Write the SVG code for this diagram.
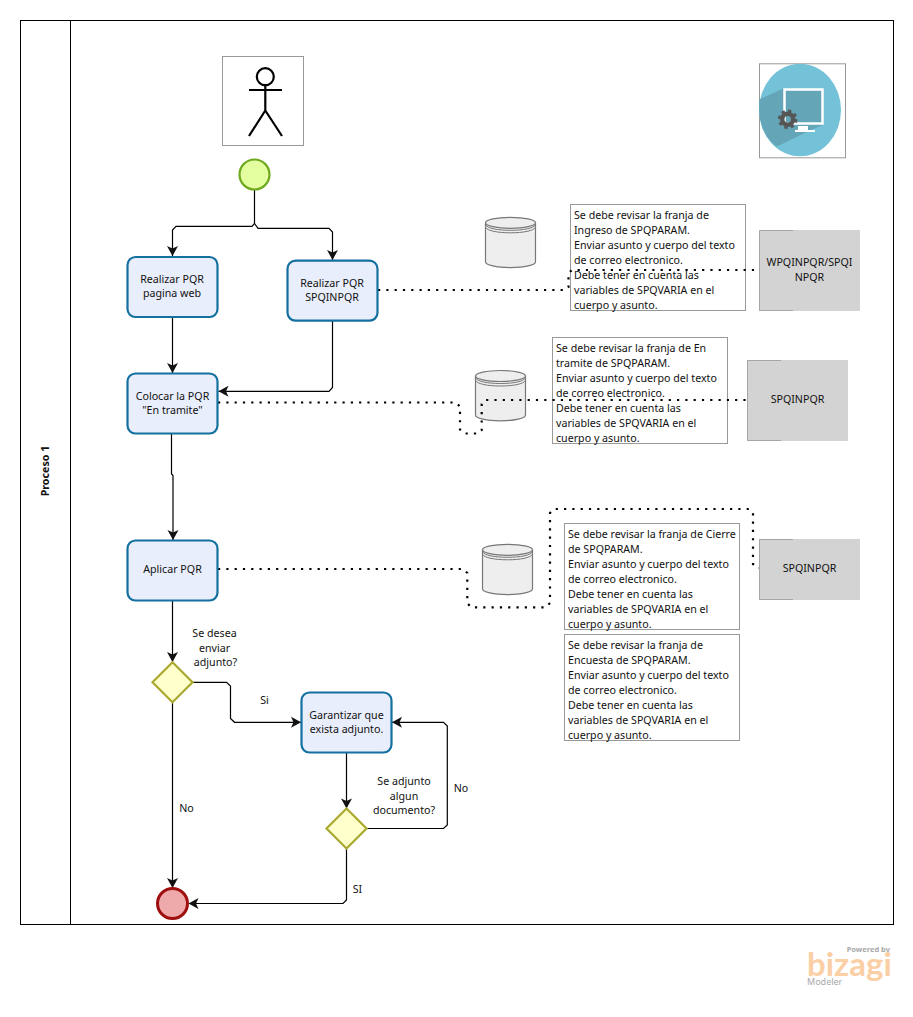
<svg xmlns="http://www.w3.org/2000/svg" width="913" height="1017" viewBox="0 0 913 1017">
<style>
text{font-family:"Noto Sans","Open Sans","Liberation Sans",sans-serif;font-size:10.67px;fill:#111}
.c{text-anchor:middle}
.task{fill:#e9eefc;stroke:#14709f;stroke-width:2.2}
.gw{fill:#ffffcc;stroke:#a9a92f;stroke-width:2.2}
.note{fill:#fff;stroke:#999;stroke-width:1}
.sys{fill:#d3d3d3}
.sysedge{fill:none;stroke:#a6a6a6;stroke-width:1}
.flow{fill:none;stroke:#000;stroke-width:1.2}
.dot{fill:none;stroke:#000;stroke-width:2.2;stroke-dasharray:2.2 6.1}
.cyl{fill:#eee;stroke:#777;stroke-width:1.2}
.cyl2{fill:none;stroke:#777;stroke-width:1}
</style>
<defs>
<marker id="ah" markerUnits="userSpaceOnUse" markerWidth="12" markerHeight="12" refX="11" refY="6" orient="auto"><path d="M1,0.5 L11,6 L1,11.5 L3.5,6 Z" fill="#111"/></marker>
<g id="db">
<path class="cyl" d="M0,5.5 V44.5 C0,47.8 11,50.3 25,50.3 C39,50.3 50,47.8 50,44.5 V5.5 Z"/>
<ellipse class="cyl" cx="25" cy="5.5" rx="25" ry="5.5"/>
<path class="cyl2" d="M0,7.5 C2,11 12,13 25,13 C38,13 48,11 50,7.5 M0,10 C2,13.5 12,15.5 25,15.5 C38,15.5 48,13.5 50,10"/>
</g>
</defs>
<rect width="913" height="1017" fill="#fff"/>
<g id="lane">
<rect x="20.500" y="20.500" width="873" height="904" fill="#fff" stroke="#000" stroke-width="1"/>
<line x1="70.500" y1="20.500" x2="70.500" y2="924.500" stroke="#000" stroke-width="1"/>
<text x="49" y="471" class="c" transform="rotate(-90 49 471)" style="font-weight:700">Proceso 1</text>
</g>
<g id="actor">
<rect x="222.500" y="56.500" width="81" height="89" fill="#fff" stroke="#999"/>
<g fill="none" stroke="#000" stroke-width="2.200">
<circle cx="265.300" cy="76.700" r="8.500"/>
<path d="M249,90 H282 M265.300,85.500 V110.500 L249,136 M265.300,110.500 L282,136"/>
</g>
</g>
<g id="system-icon">
<rect x="759.500" y="63.800" width="86" height="94" fill="#fff" stroke="#999"/>
<ellipse cx="800" cy="110" rx="41" ry="46.200" fill="#74c2d8"/>
<path d="M783.300,88.500 L759.200,99.500 C758,118 762,136 777,146.500 L813,129 L823,125 V116 Z" fill="#64a6b8"/>
<rect x="784.500" y="89.500" width="38" height="34" fill="#64a6b8" stroke="#fff" stroke-width="2.500"/>
<path d="M798,126 H808 V130 H815 V132 H795 V130 H798 Z" fill="#fff"/>
<circle cx="787.700" cy="119.300" r="5.500" fill="none" stroke="#555" stroke-width="4.500"/>
<circle cx="787.700" cy="119.300" r="8.500" fill="none" stroke="#555" stroke-width="2.500" stroke-dasharray="3.300 3.400"/>
</g>
<g id="db1"><use href="#db" x="485.500" y="217.300"/></g>
<g id="db2"><use href="#db" x="475.500" y="370.500"/></g>
<g id="db3"><use href="#db" x="482.500" y="544.300"/></g>
<g id="note1">
<rect class="note" x="570.500" y="204.500" width="175" height="106"/>
<text x="574" y="219">Se debe revisar la franja de</text>
<text x="574" y="234">Ingreso de SPQPARAM.</text>
<text x="574" y="249">Enviar asunto y cuerpo del texto</text>
<text x="574" y="264">de correo electronico.</text>
<text x="574" y="279">Debe tener en cuenta las</text>
<text x="574" y="294">variables de SPQVARIA en el</text>
<text x="574" y="309">cuerpo y asunto.</text>
</g>
<g id="note2">
<rect class="note" x="552.500" y="337.500" width="175" height="106"/>
<text x="556" y="352">Se debe revisar la franja de En</text>
<text x="556" y="367">tramite de SPQPARAM.</text>
<text x="556" y="382">Enviar asunto y cuerpo del texto</text>
<text x="556" y="397">de correo electronico.</text>
<text x="556" y="412">Debe tener en cuenta las</text>
<text x="556" y="427">variables de SPQVARIA en el</text>
<text x="556" y="442">cuerpo y asunto.</text>
</g>
<g id="note3">
<rect class="note" x="564.500" y="523.500" width="175" height="106"/>
<text x="568" y="538">Se debe revisar la franja de Cierre</text>
<text x="568" y="553">de SPQPARAM.</text>
<text x="568" y="568">Enviar asunto y cuerpo del texto</text>
<text x="568" y="583">de correo electronico.</text>
<text x="568" y="598">Debe tener en cuenta las</text>
<text x="568" y="613">variables de SPQVARIA en el</text>
<text x="568" y="628">cuerpo y asunto.</text>
</g>
<g id="note4">
<rect class="note" x="564.500" y="634.500" width="175" height="106"/>
<text x="568" y="649">Se debe revisar la franja de</text>
<text x="568" y="664">Encuesta de SPQPARAM.</text>
<text x="568" y="679">Enviar asunto y cuerpo del texto</text>
<text x="568" y="694">de correo electronico.</text>
<text x="568" y="709">Debe tener en cuenta las</text>
<text x="568" y="724">variables de SPQVARIA en el</text>
<text x="568" y="739">cuerpo y asunto.</text>
</g>
<g id="sys1">
<rect class="sys" x="759" y="230" width="101" height="81"/>
<path class="sysedge" d="M793,230.500 H759.500 V310.500 H793"/>
<text x="809.500" y="266" class="c">WPQINPQR/SPQI</text>
<text x="809.500" y="281" class="c">NPQR</text>
</g>
<g id="sys2">
<rect class="sys" x="747" y="360" width="101" height="81"/>
<path class="sysedge" d="M781,360.500 H747.500 V440.500 H781"/>
<text x="797.500" y="403" class="c">SPQINPQR</text>
</g>
<g id="sys3">
<rect class="sys" x="759" y="539" width="101" height="61"/>
<path class="sysedge" d="M793,539.500 H759.500 V599.500 H793"/>
<text x="809.500" y="572" class="c">SPQINPQR</text>
</g>
<g id="connectors">
<path class="flow" d="M254.500,190 V223.500 L252,226.300 H176 L172.500,230 V256" marker-end="url(#ah)"/>
<path class="flow" d="M254.500,223.500 L258,228.300 H329 L332.500,232 V260" marker-end="url(#ah)"/>
<path class="flow" d="M172.500,317 V373" marker-end="url(#ah)"/>
<path class="flow" d="M332.500,320.500 V387.500 L329,391.300 H218.500" marker-end="url(#ah)"/>
<path class="flow" d="M171.500,433.500 V474 L173,475.500 V540" marker-end="url(#ah)"/>
<path class="flow" d="M172.500,600.500 V662" marker-end="url(#ah)"/>
<path class="flow" d="M172.500,702.500 V888" marker-end="url(#ah)"/>
<path class="flow" d="M192.700,682.300 H226.500 L230.500,686 V718.500 L234.500,722.300 H301" marker-end="url(#ah)"/>
<path class="flow" d="M346.500,752.700 V808.500" marker-end="url(#ah)"/>
<path class="flow" d="M366.500,828.500 H443.500 L447.300,825 V726 L443.500,722.300 H392" marker-end="url(#ah)"/>
<path class="flow" d="M346.500,848.500 V900 L343,903.500 H188.500" marker-end="url(#ah)"/>
<path class="dot" d="M378,290 H565 L568.500,287 V273 L572,270 H759"/>
<path class="dot" d="M218,402.500 H456 L460,406.500 V429.500 L464,433.500 H478 L481.700,430 V404 L485,400 H747"/>
<path class="dot" d="M218,569 H463 L467.300,573 V603 L471,607.300 H546 L550,603 V513 L554,509 H749 L753,513 V564 L757,568 H759"/>
</g>
<g id="start"><circle cx="254.500" cy="174.500" r="15" fill="#e4ff9f" stroke="#6ea91f" stroke-width="2.200"/></g>
<g id="task-web">
<rect class="task" x="127.500" y="257" width="90" height="60" rx="8"/>
<text x="172" y="283" class="c">Realizar PQR</text>
<text x="172" y="297" class="c">pagina web</text>
</g>
<g id="task-spq">
<rect class="task" x="287.500" y="260.700" width="90" height="60" rx="8"/>
<text x="332" y="287" class="c">Realizar PQR</text>
<text x="332" y="301" class="c">SPQINPQR</text>
</g>
<g id="task-colocar">
<rect class="task" x="127.500" y="373.500" width="90" height="60" rx="8"/>
<text x="172.500" y="400" class="c">Colocar la PQR</text>
<text x="172.500" y="414" class="c">"En tramite"</text>
</g>
<g id="task-aplicar">
<rect class="task" x="127.500" y="540.500" width="90" height="60" rx="8"/>
<text x="172.500" y="573" class="c">Aplicar PQR</text>
</g>
<g id="task-garantizar">
<rect class="task" x="301.500" y="692.500" width="90" height="60" rx="8"/>
<text x="346.500" y="719" class="c">Garantizar que</text>
<text x="346.500" y="733" class="c">exista adjunto.</text>
</g>
<g id="gateway1">
<path class="gw" d="M172.500,662.300 L192.500,682.300 L172.500,702.300 L152.500,682.300 Z"/>
<text x="214.500" y="637" class="c">Se desea</text>
<text x="214.500" y="652" class="c">enviar</text>
<text x="215.500" y="666" class="c">adjunto?</text>
</g>
<g id="gateway2">
<path class="gw" d="M346.500,808.500 L366.500,828.500 L346.500,848.500 L326.500,828.500 Z"/>
<text x="404" y="785" class="c">Se adjunto</text>
<text x="404" y="800" class="c">algun</text>
<text x="404" y="814" class="c">documento?</text>
</g>
<g id="end"><circle cx="172.500" cy="903.500" r="15" fill="#eeaaaa" stroke="#a00f0f" stroke-width="3"/></g>
<g id="labels">
<text x="264.500" y="704" class="c">Si</text>
<text x="186.500" y="812" class="c">No</text>
<text x="461" y="792" class="c">No</text>
<text x="357.500" y="893" class="c">SI</text>
</g>
<g id="logo">
<text x="890" y="952" text-anchor="end" style="font-size:7.500px;font-weight:700;fill:#a8a8a8">Powered by</text>
<text x="807" y="976" style="font-family:Lato,'Open Sans',sans-serif;font-size:33px;font-weight:700;fill:#fbcfa6">bizagi</text>
<text x="807" y="985" style="font-size:9px;fill:#a8a8a8">Modeler</text>
</g>
</svg>
